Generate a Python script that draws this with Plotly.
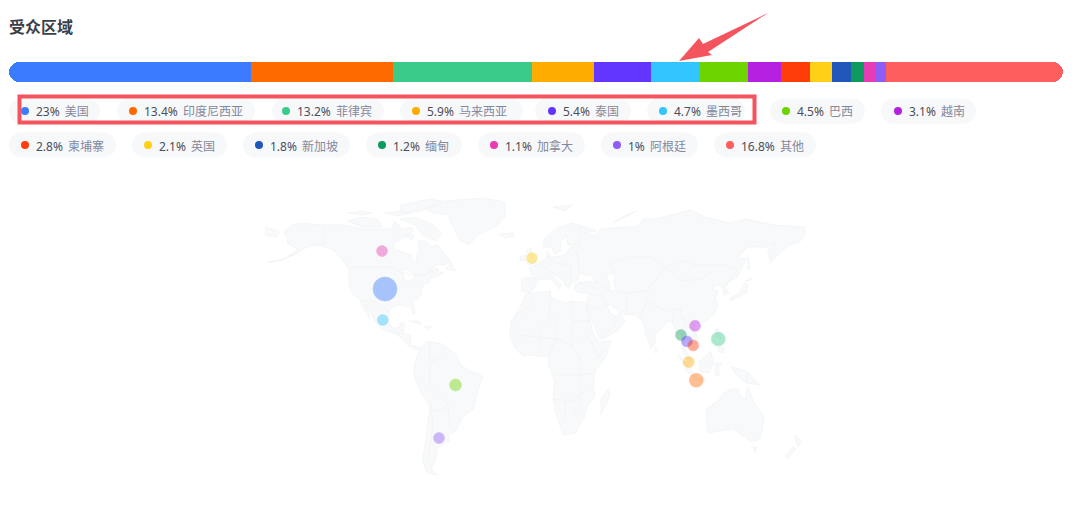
import plotly.graph_objects as go

W, H = 1078, 521

# audience regions, largest first, "其他" last
regions = ["美国", "印度尼西亚", "菲律宾", "马来西亚", "泰国", "墨西哥", "巴西", "越南",
           "柬埔寨", "英国", "新加坡", "缅甸", "加拿大", "阿根廷", "其他"]
shares = [23, 13.4, 13.2, 5.9, 5.4, 4.7, 4.5, 3.1, 2.8, 2.1, 1.8, 1.2, 1.1, 1, 16.8]
colors = ["#3a7bff", "#ff6a00", "#3acb8a", "#ffab00", "#6236ff", "#32c5ff", "#6dd400", "#b620e0",
          "#ff3d0a", "#ffd016", "#2057b8", "#0e9a5e", "#e83cb4", "#8e5cf6", "#ff5e5e"]

# bubbles on the map
bubble_names = ["美国", "加拿大", "墨西哥", "巴西", "阿根廷", "英国", "越南", "菲律宾",
                "缅甸", "泰国", "柬埔寨", "马来西亚", "印度尼西亚"]
bubble_lon = [-100, -102, -101.5, -53, -64, -2, 106.7, 122.2, 97.3, 101.3, 105.5, 102.5, 107.5]
bubble_lat = [38, 57, 22.5, -10, -36.5, 53.5, 19.6, 13, 15, 11.8, 9.8, 1.5, -7.6]
bubble_size = [24, 11, 11, 12, 11, 11, 11, 14, 11, 11, 11, 11, 14]

# rough coastlines, (lon, lat)
north_america = [(-168, 66), (-162, 70), (-156, 71), (-141, 70), (-128, 70), (-115, 68), (-108, 68), (-95, 68),
                 (-94, 72), (-88, 68), (-82, 69), (-81, 67), (-87, 64), (-94, 61), (-94, 58), (-88, 56.5), (-82, 55),
                 (-82, 52), (-79, 51.5), (-79, 55), (-77, 57), (-78, 62), (-73, 62), (-69, 59), (-65, 60), (-60, 55),
                 (-56, 52), (-60, 50), (-66, 50), (-71, 47), (-65, 48.5), (-64, 46), (-61, 46), (-66, 44), (-70, 43.5),
                 (-70, 41.5), (-74, 40.5), (-76, 37), (-76, 35), (-81, 31.5), (-80, 26), (-81, 25), (-83, 29), (-89, 30),
                 (-94, 29.5), (-97, 27), (-98, 22), (-95, 18.5), (-91, 18.5), (-90, 21), (-87, 21), (-88, 16), (-83, 15),
                 (-83, 10), (-79.5, 9.5), (-77, 8.5), (-80, 7.5), (-85, 10), (-88, 13), (-94, 16), (-100, 17), (-105, 20),
                 (-109, 25), (-113, 31), (-110, 23), (-115, 29), (-117, 33), (-121, 35), (-124, 40), (-124, 48),
                 (-130, 54), (-135, 58), (-145, 60), (-152, 59), (-160, 55), (-165, 54.5), (-158, 58), (-165, 61),
                 (-165, 64), (-168, 66)]
greenland = [(-73, 78), (-60, 82), (-35, 83.5), (-20, 81.5), (-20, 74), (-25, 70), (-38, 65), (-44, 60), (-50, 62),
             (-54, 68), (-58, 75), (-68, 76), (-73, 78)]
south_america = [(-77, 8), (-72, 12), (-62, 10.5), (-52, 5), (-50, 0), (-44, -2.5), (-35, -5.5), (-39, -15), (-41, -22),
                 (-48, -26), (-53, -33), (-58, -35), (-57, -38), (-65, -41), (-66, -46), (-69, -52), (-65, -55), (-72, -54),
                 (-75, -48), (-73, -38), (-70, -20), (-76, -14), (-81, -5), (-80, 1), (-77, 8)]
africa = [(-6, 35.5), (10, 37), (11, 33.5), (20, 31), (25, 32), (34, 31), (37, 21), (39, 15), (43, 11.5), (51, 12), (47, 4),
          (40, -3), (39, -10), (40, -16), (35, -20), (33, -26), (27, -34), (19, -35), (15, -27), (12, -17), (13, -8), (9, 0),
          (9, 4), (-4, 5), (-8, 4.5), (-13, 8), (-17, 14), (-16, 21), (-10, 29), (-6, 35.5)]
eurasia = [(-9, 37), (-9, 43), (-1, 44), (-4, 48.5), (3, 51), (8, 54), (8, 57), (11, 54), (20, 55), (24, 59), (30, 60),
           (22, 60), (21, 65), (17, 61), (17, 57), (13, 55.5), (11, 59), (5, 59), (6, 63), (15, 68.5), (25, 71), (41, 67),
           (33, 66), (40, 64.5), (44, 68), (60, 69), (68, 69), (72, 73), (80, 73), (104, 77.5), (113, 74), (130, 71),
           (140, 73), (160, 70), (180, 69), (180, 65), (177, 62), (170, 60), (163, 56), (157, 51), (155, 57), (160, 61),
           (155, 59), (142, 59), (135, 54), (141, 53), (135, 44), (130, 42), (127, 39), (129, 36), (126, 34.5), (125, 39),
           (121, 40), (118, 38), (122, 37), (120, 33), (122, 30), (119, 25), (114, 22), (110, 21), (107, 21), (106, 18),
           (109, 13), (107, 10), (105, 9), (103, 11), (100, 13.5), (99, 9), (103, 4), (104, 1.5), (101, 3), (98, 8), (98, 15),
           (94, 16), (92, 21), (89, 22), (86, 20), (80, 15), (80, 11), (77.5, 8), (74, 15), (72.5, 21), (67, 25), (57, 25.5),
           (56, 27), (50, 30), (48, 30), (50, 26), (54, 24), (56, 26), (60, 22), (55, 17), (45, 13), (43, 13), (39, 21),
           (35, 28), (34.5, 31), (36, 36), (30, 36), (27, 37), (26, 40), (29, 41), (35, 42), (41, 41), (37, 45), (33, 45),
           (30, 46), (28, 42), (24, 41), (23, 38), (20, 40), (19, 42), (14, 45), (12, 44), (18, 40), (16, 38), (11, 43),
           (3, 43), (0, 39), (-2, 37), (-5, 36), (-9, 37)]
australia = [(114, -22), (122, -18), (126, -14), (131, -12), (136, -12), (136, -15), (140, -17), (142, -11), (146, -19),
             (153, -26), (150, -37), (144, -38.5), (138, -35), (132, -32), (124, -33), (115, -34), (114, -22)]
islands = [
    [(-180, 69), (-172, 67), (-170, 66), (-173, 64), (-180, 65), (-180, 69)],
    [(-178, 51.5), (-168, 53), (-160, 55.5), (-168, 52.5), (-178, 51)],
    [(-125, 72), (-115, 74), (-105, 73), (-102, 69), (-115, 69), (-125, 72)],
    [(-125, 76), (-115, 77), (-108, 76), (-116, 75), (-125, 76)],
    [(-100, 76), (-90, 77), (-82, 76), (-92, 74.5), (-100, 76)],
    [(-88, 65), (-81, 65), (-82, 62.5), (-88, 65)],
    [(-90, 73), (-80, 74), (-68, 70), (-62, 66), (-66, 62), (-75, 65), (-80, 70), (-90, 73)],
    [(-90, 80), (-70, 83), (-62, 82), (-76, 77), (-90, 76), (-90, 80)],
    [(-84, 22), (-75, 20), (-78, 22), (-84, 22)],
    [(-74, 19.5), (-69, 19), (-71, 18), (-74, 19.5)],
    [(-59, 48), (-53, 47), (-56, 51.5), (-59, 48)],
    [(-24, 65.5), (-15, 66), (-14, 64.5), (-20, 63.5), (-24, 65.5)],
    [(-5, 50), (1, 51), (-2, 56), (-3, 58.5), (-6, 57), (-3, 54), (-5, 52), (-5, 50)],
    [(-10, 52), (-6, 52), (-6, 55), (-10, 54), (-10, 52)],
    [(44, -25), (50, -15), (49, -12), (44, -17), (44, -25)],
    [(80, 9), (82, 7), (80, 6), (80, 9)],
    [(52, 71), (68, 77), (58, 74), (52, 71)],
    [(12, 79), (25, 80), (20, 77), (12, 79)],
    [(130, 32), (136, 34), (141, 36), (142, 40), (140, 41), (136, 36), (131, 34), (130, 32)],
    [(140, 42), (145, 44), (143, 42), (140, 42)],
    [(142, 54), (143, 47), (142, 48), (142, 54)],
    [(95, 5.5), (104, -2), (106, -6), (101, -3), (95, 5.5)],
    [(106, -6), (114, -7), (114, -8.5), (106, -7.5), (106, -6)],
    [(109, 1), (117, 7), (119, 1), (116, -4), (110, -3), (109, 1)],
    [(120, 1), (125, 1), (122, -1), (123, -5), (120, -5), (120, 1)],
    [(131, -1), (141, -3), (150, -10), (141, -9), (133, -4), (131, -1)],
    [(120, 18), (122, 18), (124, 13), (121, 14), (120, 18)],
    [(122, 9), (126, 9), (126, 6), (122, 7), (122, 9)],
    [(145, -41), (148, -41), (147, -43.5), (145, -41)],
    [(173, -35), (178, -38), (175, -41), (174, -38), (173, -35)],
    [(172, -41), (174, -42), (168, -47), (167, -45), (172, -41)],
]
inland_water = [
    [(47, 45), (53, 46), (53, 40), (54, 37), (50, 37), (50, 41), (47, 45)],
    [(-92, 47), (-85, 48), (-80, 45), (-82, 42), (-87, 42), (-88, 46), (-92, 47)],
]
# a few faint country borders
borders = [
    [(-141, 70), (-141, 60)], [(-124, 49), (-95, 49), (-83, 45), (-75, 45), (-68, 47), (-67, 45)],
    [(-117, 32.5), (-106, 31.5), (-97, 26)], [(-92, 15), (-89, 18)], [(-70, 12), (-70, -10), (-58, -20), (-57, -30), (-53, -33)],
    [(-60, 5), (-70, 1)], [(-70, -18), (-68, -30), (-72, -50)], [(-58, -20), (-62, -22), (-68, -23)],
    [(-2, 35), (-2, 30), (-12, 25), (-17, 21)], [(10, 37), (10, 24), (3, 19), (3, 12), (3, 6)], [(25, 32), (25, 20), (24, 10), (30, 4)],
    [(25, 22), (37, 22)], [(14, 23), (14, 13), (9, 4)], [(-12, 15), (15, 13), (24, 10), (36, 14)], [(13, -5), (30, -5), (40, -4)],
    [(12, -17), (25, -18), (35, -12)], [(20, -18), (20, -29), (17, -29)], [(30, 4), (30, -20), (25, -25)], [(36, 14), (42, 4), (47, 8)],
    [(3, 43), (-2, 43)], [(3, 51), (8, 48), (14, 45)], [(8, 54), (14, 51), (24, 50), (24, 42)], [(24, 59), (28, 56), (30, 46)],
    [(30, 70), (30, 60)], [(29, 41), (41, 38), (45, 39)], [(36, 36), (46, 34), (48, 30)], [(35, 28), (44, 29), (48, 30)],
    [(45, 13), (52, 19), (56, 24)], [(46, 39), (50, 37)], [(54, 37), (61, 36), (61, 25)], [(61, 36), (74, 37), (80, 42), (87, 49)],
    [(54, 46), (50, 51), (62, 54), (77, 54), (87, 49), (98, 52), (107, 50), (118, 50), (127, 50), (135, 48), (131, 43), (130, 42)],
    [(87, 49), (98, 42), (111, 43), (118, 47)], [(74, 37), (74, 30), (70, 25)], [(74, 33), (80, 30), (88, 27), (97, 28), (98, 24), (102, 22), (107, 21)],
    [(92, 21), (92, 25)], [(98, 24), (100, 20), (98, 15)], [(100, 20), (105, 18), (107, 14), (103, 14), (103, 11)], [(125, 39), (130, 42)],
    [(141, -3), (141, -9)],
]

fig = go.Figure()

# stacked share bar: first segment goes left of zero so both ends of the bar get the rounded corners
for n, (region, share, color) in enumerate(zip(regions, shares, colors)):
    fig.add_trace(go.Bar(x=[-share if n == 0 else share], y=[""], orientation="h", marker=dict(color=color, line_width=0),
                         name=region, xaxis="x", yaxis="y", showlegend=False, hoverinfo="skip", cliponaxis=False))


def join_polys(polys):
    lons, lats = [], []
    for poly in polys:
        lons += [p[0] for p in poly] + [None]
        lats += [p[1] for p in poly] + [None]
    return lons, lats


land_lon, land_lat = join_polys([north_america, greenland, south_america, africa, eurasia, australia] + islands)
fig.add_trace(go.Scatter(x=land_lon, y=land_lat, mode="lines", fill="toself", fillcolor="#f8f9fa",
                         line=dict(color="#f1f2f4", width=0.7), xaxis="x2", yaxis="y2", showlegend=False, hoverinfo="skip"))
water_lon, water_lat = join_polys(inland_water)
fig.add_trace(go.Scatter(x=water_lon, y=water_lat, mode="lines", fill="toself", fillcolor="#ffffff",
                         line=dict(color="#f1f2f4", width=0.7), xaxis="x2", yaxis="y2", showlegend=False, hoverinfo="skip"))
border_lon, border_lat = join_polys(borders)
fig.add_trace(go.Scatter(x=border_lon, y=border_lat, mode="lines", line=dict(color="#eff0f3", width=0.6),
                         xaxis="x2", yaxis="y2", showlegend=False, hoverinfo="skip"))

bubble_colors = [colors[regions.index(n)] for n in bubble_names]
fig.add_trace(go.Scatter(x=bubble_lon, y=bubble_lat, mode="markers", text=bubble_names,
                         marker=dict(size=bubble_size, color=bubble_colors, opacity=0.42,
                                     line=dict(color=bubble_colors, width=0.5)),
                         xaxis="x2", yaxis="y2", showlegend=False, hoverinfo="text"))


def px(x):
    return x / W


def py(y):
    return 1 - y / H


# pills: left edge, right edge and text start of each legend entry
pill_rows = [
    (111, [(9, 100, 36), (117, 255, 144), (272, 384, 297), (400, 523, 427), (535, 631, 563), (647, 745, 674), (770, 865, 797), (881, 976, 909)]),
    (145, [(9, 116, 36), (132, 227, 159), (243, 350, 270), (366, 462, 393), (478, 585, 505), (601, 698, 628), (714, 816, 741)]),
]

shapes = []
annotations = [dict(text="<b>受众区域</b>", x=px(7), y=py(27), xref="paper", yref="paper", xanchor="left", yanchor="middle",
                    showarrow=False, font=dict(size=16, color="#3a3f4b"))]
dot_x, dot_y = [], []
i = 0
for yc, row in pill_rows:
    for left, right, text_x in row:
        r = 12.5
        k = 0.55 * r
        path = (f"M {px(left + r)} {py(yc - r)} L {px(right - r)} {py(yc - r)} "
                f"C {px(right - r + k)} {py(yc - r)} {px(right)} {py(yc - k)} {px(right)} {py(yc)} "
                f"C {px(right)} {py(yc + k)} {px(right - r + k)} {py(yc + r)} {px(right - r)} {py(yc + r)} "
                f"L {px(left + r)} {py(yc + r)} "
                f"C {px(left + r - k)} {py(yc + r)} {px(left)} {py(yc + k)} {px(left)} {py(yc)} "
                f"C {px(left)} {py(yc - k)} {px(left + r - k)} {py(yc - r)} {px(left + r)} {py(yc - r)} Z")
        shapes.append(dict(type="path", path=path, xref="paper", yref="paper", fillcolor="#f7f8fa", line_width=0, layer="below"))
        dot_x.append(px(text_x - 11))
        dot_y.append(py(yc))
        annotations.append(dict(text=f"{shares[i]:g}%&#8198; <span style='color:#85889a'>{regions[i]}</span>",
                                x=px(text_x - 2), y=py(yc + 1), xref="paper", yref="paper", xanchor="left", yanchor="middle",
                                showarrow=False, font=dict(size=12, color="#4b4f5c")))
        i += 1

# legend dots on a canvas axis the size of the page
fig.add_trace(go.Scatter(x=dot_x, y=dot_y, mode="markers", marker=dict(size=8, color=colors),
                         xaxis="x3", yaxis="y3", showlegend=False, hoverinfo="skip"))

# red highlight box and arrow drawn over the screenshot
shapes.append(dict(type="rect", x0=px(19.5), x1=px(754.5), y0=py(96.5), y1=py(122.5), xref="paper", yref="paper",
                   line=dict(color="#f4545d", width=4), fillcolor="rgba(0,0,0,0)"))
arrow = [(679, 61), (699, 38), (703, 44), (768, 13), (708, 52), (712, 55)]
shapes.append(dict(type="path", xref="paper", yref="paper", fillcolor="#f4545d", line_width=0,
                   path="M " + " L ".join(f"{px(a)} {py(b)}" for a, b in arrow) + " Z"))

hidden = dict(visible=False, fixedrange=True)
fig.update_layout(
    width=W, height=H, margin=dict(l=0, r=0, t=0, b=0), paper_bgcolor="white", plot_bgcolor="rgba(0,0,0,0)",
    barmode="relative", bargap=0, barcornerradius=10, showlegend=False,
    font=dict(family="'Noto Sans', 'Noto Sans CJK SC', sans-serif"),
    xaxis=dict(hidden, domain=[px(9), px(1063)], range=[-shares[0], 100 - shares[0]]),
    yaxis=dict(hidden, domain=[py(82), py(62)]),
    xaxis2=dict(hidden, domain=[px(265), px(808)], range=[-180, 182], anchor="y2"),
    yaxis2=dict(hidden, domain=[py(485), py(195)], range=[-60, 85], anchor="x2"),
    xaxis3=dict(hidden, domain=[0, 1], range=[0, 1], anchor="y3"),
    yaxis3=dict(hidden, domain=[0, 1], range=[0, 1], anchor="x3"),
    shapes=shapes, annotations=annotations,
)

fig.write_html("out.html", config=dict(displayModeBar=False), post_script="document.body.style.margin='0';")
